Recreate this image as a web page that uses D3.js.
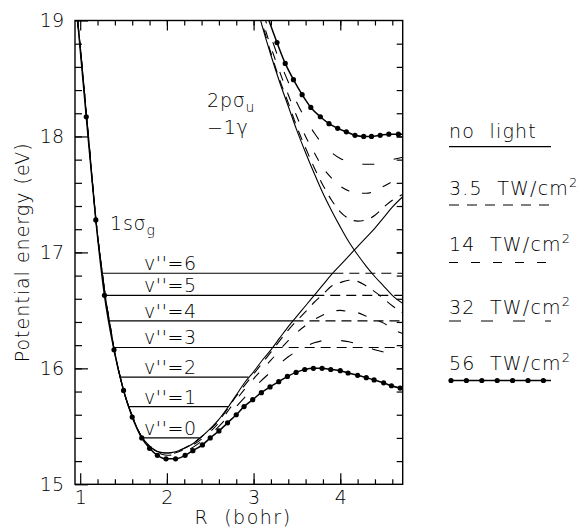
<!DOCTYPE html>
<html>
<head>
<meta charset="utf-8">
<script src="https://cdn.jsdelivr.net/npm/d3@7"></script>
<style>
body { margin: 0; background: #fff; }
text { font-family: "DejaVu Sans", Lato, sans-serif; font-weight: 200; fill: #000; white-space: pre; }
</style>
</head>
<body>
<div id="chart-area"></div>
<script>
// ---- data (R in bohr, E in eV) ----
var xTicks = [1, 2, 3, 4];
var yTicks = [15, 16, 17, 18, 19];

// 1s sigma_g, no light
var rG = [0.97, 1.0, 1.05, 1.1, 1.15, 1.2, 1.25, 1.3, 1.35, 1.4, 1.45, 1.5, 1.6, 1.7, 1.8, 1.9, 2.0, 2.1, 2.2, 2.3, 2.4, 2.5, 2.6, 2.7, 2.8, 2.9, 3.0, 3.1, 3.2, 3.3, 3.4, 3.5, 3.6, 3.7, 3.8, 3.9, 4.0, 4.1, 4.2, 4.3, 4.4, 4.5, 4.6, 4.72];
var eG = [19.0, 18.78, 18.37, 17.96, 17.53, 17.15, 16.85, 16.57, 16.35, 16.13, 15.96, 15.81, 15.59, 15.42, 15.33, 15.28, 15.27, 15.28, 15.31, 15.35, 15.41, 15.48, 15.56, 15.66, 15.77, 15.88, 15.97, 16.07, 16.16, 16.26, 16.36, 16.45, 16.54, 16.63, 16.72, 16.81, 16.89, 16.97, 17.05, 17.13, 17.21, 17.30, 17.39, 17.48];

// 2p sigma_u - 1 photon, no light
var rU = [3.0, 3.1, 3.2, 3.3, 3.4, 3.5, 3.6, 3.7, 3.8, 3.9, 4.0, 4.1, 4.2, 4.3, 4.4, 4.5, 4.6, 4.72];
var eU = [19.22, 18.95, 18.70, 18.47, 18.26, 18.05, 17.86, 17.68, 17.51, 17.36, 17.22, 17.09, 16.98, 16.88, 16.79, 16.71, 16.63, 16.56];

// dressed curves, lower branch
var rLow = [0.97, 1.0, 1.05, 1.1, 1.15, 1.2, 1.25, 1.3, 1.35, 1.4, 1.45, 1.5, 1.6, 1.7, 1.8, 1.9, 2.0, 2.2, 2.4, 2.6, 2.8, 3.0, 3.2, 3.4, 3.6, 3.7, 3.8, 3.9, 4.0, 4.1, 4.2, 4.3, 4.4, 4.5, 4.6, 4.72];
var low35 = [19.0, 18.78, 18.37, 17.96, 17.53, 17.15, 16.85, 16.57, 16.35, 16.13, 15.96, 15.81, 15.59, 15.42, 15.33, 15.28, 15.27, 15.31, 15.41, 15.55, 15.76, 15.95, 16.14, 16.33, 16.49, 16.57, 16.64, 16.71, 16.74, 16.76, 16.75, 16.71, 16.66, 16.60, 16.54, 16.48];
var low14 = [19.0, 18.78, 18.37, 17.96, 17.53, 17.15, 16.85, 16.57, 16.35, 16.13, 15.96, 15.81, 15.59, 15.42, 15.33, 15.28, 15.26, 15.30, 15.39, 15.53, 15.73, 15.91, 16.07, 16.24, 16.37, 16.42, 16.46, 16.49, 16.50, 16.49, 16.48, 16.45, 16.42, 16.39, 16.34, 16.30];
var low32 = [19.0, 18.78, 18.37, 17.96, 17.53, 17.15, 16.85, 16.57, 16.35, 16.13, 15.96, 15.81, 15.59, 15.42, 15.32, 15.27, 15.25, 15.28, 15.37, 15.50, 15.67, 15.83, 15.97, 16.10, 16.19, 16.22, 16.24, 16.25, 16.24, 16.23, 16.21, 16.19, 16.16, 16.14, 16.10, 16.08];

// dressed curves, upper branch
var rUp = [3.0, 3.1, 3.2, 3.3, 3.4, 3.5, 3.6, 3.7, 3.8, 3.9, 4.0, 4.1, 4.2, 4.3, 4.4, 4.5, 4.6, 4.72];
var up35 = [19.23, 18.97, 18.72, 18.49, 18.29, 18.08, 17.90, 17.73, 17.58, 17.45, 17.35, 17.29, 17.27, 17.28, 17.32, 17.39, 17.45, 17.50];
var up14 = [19.28, 19.01, 18.77, 18.56, 18.36, 18.17, 18.00, 17.86, 17.73, 17.64, 17.57, 17.53, 17.51, 17.51, 17.53, 17.57, 17.61, 17.65];
var up32 = [19.34, 19.09, 18.86, 18.65, 18.47, 18.29, 18.15, 18.03, 17.93, 17.86, 17.81, 17.78, 17.76, 17.76, 17.76, 17.78, 17.80, 17.82];

// 56 TW/cm2 (dotted), first and last points are the ends at the frame
var r56Low = [0.97, 1.07, 1.18, 1.28, 1.39, 1.50, 1.60, 1.71, 1.80, 1.89, 1.99, 2.10, 2.21, 2.30, 2.41, 2.50, 2.60, 2.70, 2.80, 2.89, 2.99, 3.09, 3.19, 3.29, 3.39, 3.49, 3.59, 3.69, 3.79, 3.89, 4.00, 4.09, 4.20, 4.30, 4.39, 4.50, 4.59, 4.69, 4.72];
var e56Low = [19.0, 18.17, 17.28, 16.63, 16.16, 15.81, 15.58, 15.40, 15.31, 15.25, 15.22, 15.22, 15.25, 15.29, 15.34, 15.40, 15.46, 15.53, 15.60, 15.67, 15.73, 15.79, 15.84, 15.885, 15.93, 15.965, 15.99, 16.0, 16.0, 15.99, 15.98, 15.96, 15.94, 15.92, 15.90, 15.875, 15.85, 15.83, 15.825];
var r56Up = [3.12, 3.27, 3.365, 3.46, 3.56, 3.66, 3.77, 3.87, 3.97, 4.07, 4.17, 4.27, 4.36, 4.46, 4.56, 4.67, 4.72];
var e56Up = [19.12, 18.81, 18.63, 18.49, 18.36, 18.25, 18.17, 18.11, 18.07, 18.04, 18.01, 18.0, 18.0, 18.01, 18.02, 18.02, 18.02];

// vibrational levels of 1s sigma_g
var levelNames = ["v''=0", "v''=1", "v''=2", "v''=3", "v''=4", "v''=5", "v''=6"];
var levelE = [15.40, 15.67, 15.925, 16.18, 16.41, 16.63, 16.82];
var levelR0 = [1.716, 1.56, 1.46, 1.38, 1.33, 1.285, 1.255];
var levelR1 = [2.375, 2.71, 2.94, 3.22, 3.46, 3.70, 3.92];
var levelFree = [false, false, false, true, true, true, true];

var legendNames = ["no light", "3.5", "14", "32", "56"];

// ---- layout ----
var margin = {top: 20.5, left: 75};
var width = 327.7;
var height = 463.8;
var fs = 19;

var svg = d3.select("#chart-area")
    .append("svg")
    .attr("width", 587)
    .attr("height", 531);

var x = d3.scaleLinear().domain([0.94, 4.72]).range([margin.left, margin.left + width]);
var y = d3.scaleLinear().domain([15, 19]).range([margin.top + height, margin.top]);

svg.append("clipPath").attr("id", "plot")
    .append("rect")
    .attr("x", margin.left).attr("y", margin.top)
    .attr("width", width).attr("height", height);

var line = d3.line()
    .x(function(d){ return x(d[0]); })
    .y(function(d){ return y(d[1]); })
    .curve(d3.curveMonotoneX);

function pts(rs, es){ return rs.map(function(r, i){ return [r, es[i]]; }); }

var dash = {"3.5": "10,8", "14": "9,13", "32": "12,20"};

var curves = svg.append("g").attr("clip-path", "url(#plot)");

function drawCurve(data, sw, dasharray){
    curves.append("path")
        .attr("d", line(data))
        .attr("fill", "none")
        .attr("stroke", "#000")
        .attr("stroke-width", sw)
        .attr("stroke-dasharray", dasharray || null);
}

drawCurve(pts(rG, eG), 1.1);
drawCurve(pts(rU, eU), 1.1);
drawCurve(pts(rLow, low35), 1.1, dash["3.5"]);
drawCurve(pts(rLow, low14), 1.1, dash["14"]);
drawCurve(pts(rLow, low32), 1.1, dash["32"]);
drawCurve(pts(rUp, up35), 1.1, dash["3.5"]);
drawCurve(pts(rUp, up14), 1.1, dash["14"]);
drawCurve(pts(rUp, up32), 1.1, dash["32"]);
drawCurve(pts(r56Low, e56Low), 1.5);
drawCurve(pts(r56Up, e56Up), 1.5);

// dots of the 56 TW/cm2 curves (not on the frame ends)
var dots56 = pts(r56Low, e56Low).slice(1, -1).concat(pts(r56Up, e56Up).slice(1, -1));
curves.selectAll("circle.d56").data(dots56).enter().append("circle")
    .attr("class", "d56")
    .attr("cx", function(d){ return x(d[0]); })
    .attr("cy", function(d){ return y(d[1]); })
    .attr("r", 2.6)
    .attr("fill", "#000");

// vibrational levels
levelE.forEach(function(e, i){
    curves.append("line")
        .attr("x1", x(levelR0[i])).attr("x2", x(levelR1[i]))
        .attr("y1", y(e)).attr("y2", y(e))
        .attr("stroke", "#000").attr("stroke-width", 1.2);
    if (levelFree[i]) {
        curves.append("line")
            .attr("x1", x(levelR1[i])).attr("x2", x(4.72))
            .attr("y1", y(e)).attr("y2", y(e))
            .attr("stroke", "#000").attr("stroke-width", 1.2)
            .attr("stroke-dasharray", "10,6");
    }
    svg.append("text")
        .attr("x", 144).attr("y", y(e) - 3)
        .attr("font-size", 19)
        .attr("letter-spacing", 0.6)
        .text(levelNames[i]);
});

// ---- axes ----
var xMinor = d3.range(1.2, 4.71, 0.2);
var yMinor = d3.range(15.2, 18.9, 0.2);
var fmt = d3.format("d");

function clean(g){
    g.select(".domain").remove();
    g.selectAll("line").attr("stroke-width", 1.2);
    g.selectAll("text").attr("font-size", fs).attr("font-family", null);
}

svg.append("g").attr("transform", "translate(0," + (margin.top + height) + ")")
    .call(d3.axisBottom(x).tickValues(xMinor).tickSize(-5).tickFormat("")).call(clean);
svg.append("g").attr("transform", "translate(0," + (margin.top + height) + ")")
    .call(d3.axisBottom(x).tickValues(xTicks).tickSize(-11).tickPadding(6).tickFormat(fmt)).call(clean);
svg.append("g").attr("transform", "translate(0," + margin.top + ")")
    .call(d3.axisTop(x).tickValues(xMinor).tickSize(-5).tickFormat("")).call(clean);
svg.append("g").attr("transform", "translate(0," + margin.top + ")")
    .call(d3.axisTop(x).tickValues(xTicks).tickSize(-10).tickFormat("")).call(clean);
svg.append("g").attr("transform", "translate(" + margin.left + ",0)")
    .call(d3.axisLeft(y).tickValues(yMinor).tickSize(-7).tickFormat("")).call(clean);
svg.append("g").attr("transform", "translate(" + margin.left + ",0)")
    .call(d3.axisLeft(y).tickValues(yTicks).tickSize(-13).tickPadding(11).tickFormat(fmt)).call(clean);
svg.append("g").attr("transform", "translate(" + (margin.left + width) + ",0)")
    .call(d3.axisRight(y).tickValues(yMinor.concat([16, 17, 18])).tickSize(-6).tickFormat("")).call(clean);

svg.append("rect")
    .attr("x", margin.left).attr("y", margin.top)
    .attr("width", width).attr("height", height)
    .attr("fill", "none").attr("stroke", "#000").attr("stroke-width", 1.4);

// axis titles
svg.append("text")
    .attr("transform", "translate(29," + (margin.top + height / 2) + ") rotate(-90)")
    .attr("text-anchor", "middle")
    .attr("font-size", fs)
    .attr("letter-spacing", 1)
    .text("Potential energy (eV)");

svg.append("text")
    .attr("x", 243).attr("y", 524)
    .attr("text-anchor", "middle")
    .attr("font-size", fs)
    .attr("letter-spacing", 1.5)
    .text("R  (bohr)");

// curve labels
var lg = svg.append("text").attr("x", 110).attr("y", 230).attr("font-size", fs).attr("letter-spacing", 0.8);
lg.append("tspan").text("1s\u03c3");
lg.append("tspan").attr("dy", 5).attr("font-size", 14).text("g");

var lu = svg.append("text").attr("x", 207).attr("y", 107).attr("font-size", fs).attr("letter-spacing", 0.8);
lu.append("tspan").text("2p\u03c3");
lu.append("tspan").attr("dy", 5).attr("font-size", 14).text("u");
svg.append("text").attr("x", 207).attr("y", 134).attr("font-size", fs).attr("letter-spacing", 0.8).text("\u22121\u03b3");

// ---- legend ----
var legX0 = 449, legX1 = 551;
var legTextY = [138, 195, 251, 314, 370];
var legLineY = [146.7, 205, 262.5, 321, 380.5];

legendNames.forEach(function(name, i){
    var t = svg.append("text").attr("x", legX0).attr("y", legTextY[i])
        .attr("font-size", fs).attr("letter-spacing", 1.2);
    if (i === 0) {
        t.text("no  light");
    } else {
        t.append("tspan").text(name + "  TW/cm");
        t.append("tspan").attr("dy", -8).attr("font-size", 13).text("2");
    }
    svg.append("line")
        .attr("x1", legX0).attr("x2", legX1)
        .attr("y1", legLineY[i]).attr("y2", legLineY[i])
        .attr("stroke", "#000")
        .attr("stroke-width", i === 4 ? 1.5 : 1.2)
        .attr("stroke-dasharray", dash[name] || null);
    if (i === 4) {
        svg.selectAll("circle.leg").data(d3.range(7)).enter().append("circle")
            .attr("class", "leg")
            .attr("cx", function(k){ return legX0 + 2 + k * 15.4; })
            .attr("cy", legLineY[i])
            .attr("r", 2.6)
            .attr("fill", "#000");
    }
});
</script>
</body>
</html>
